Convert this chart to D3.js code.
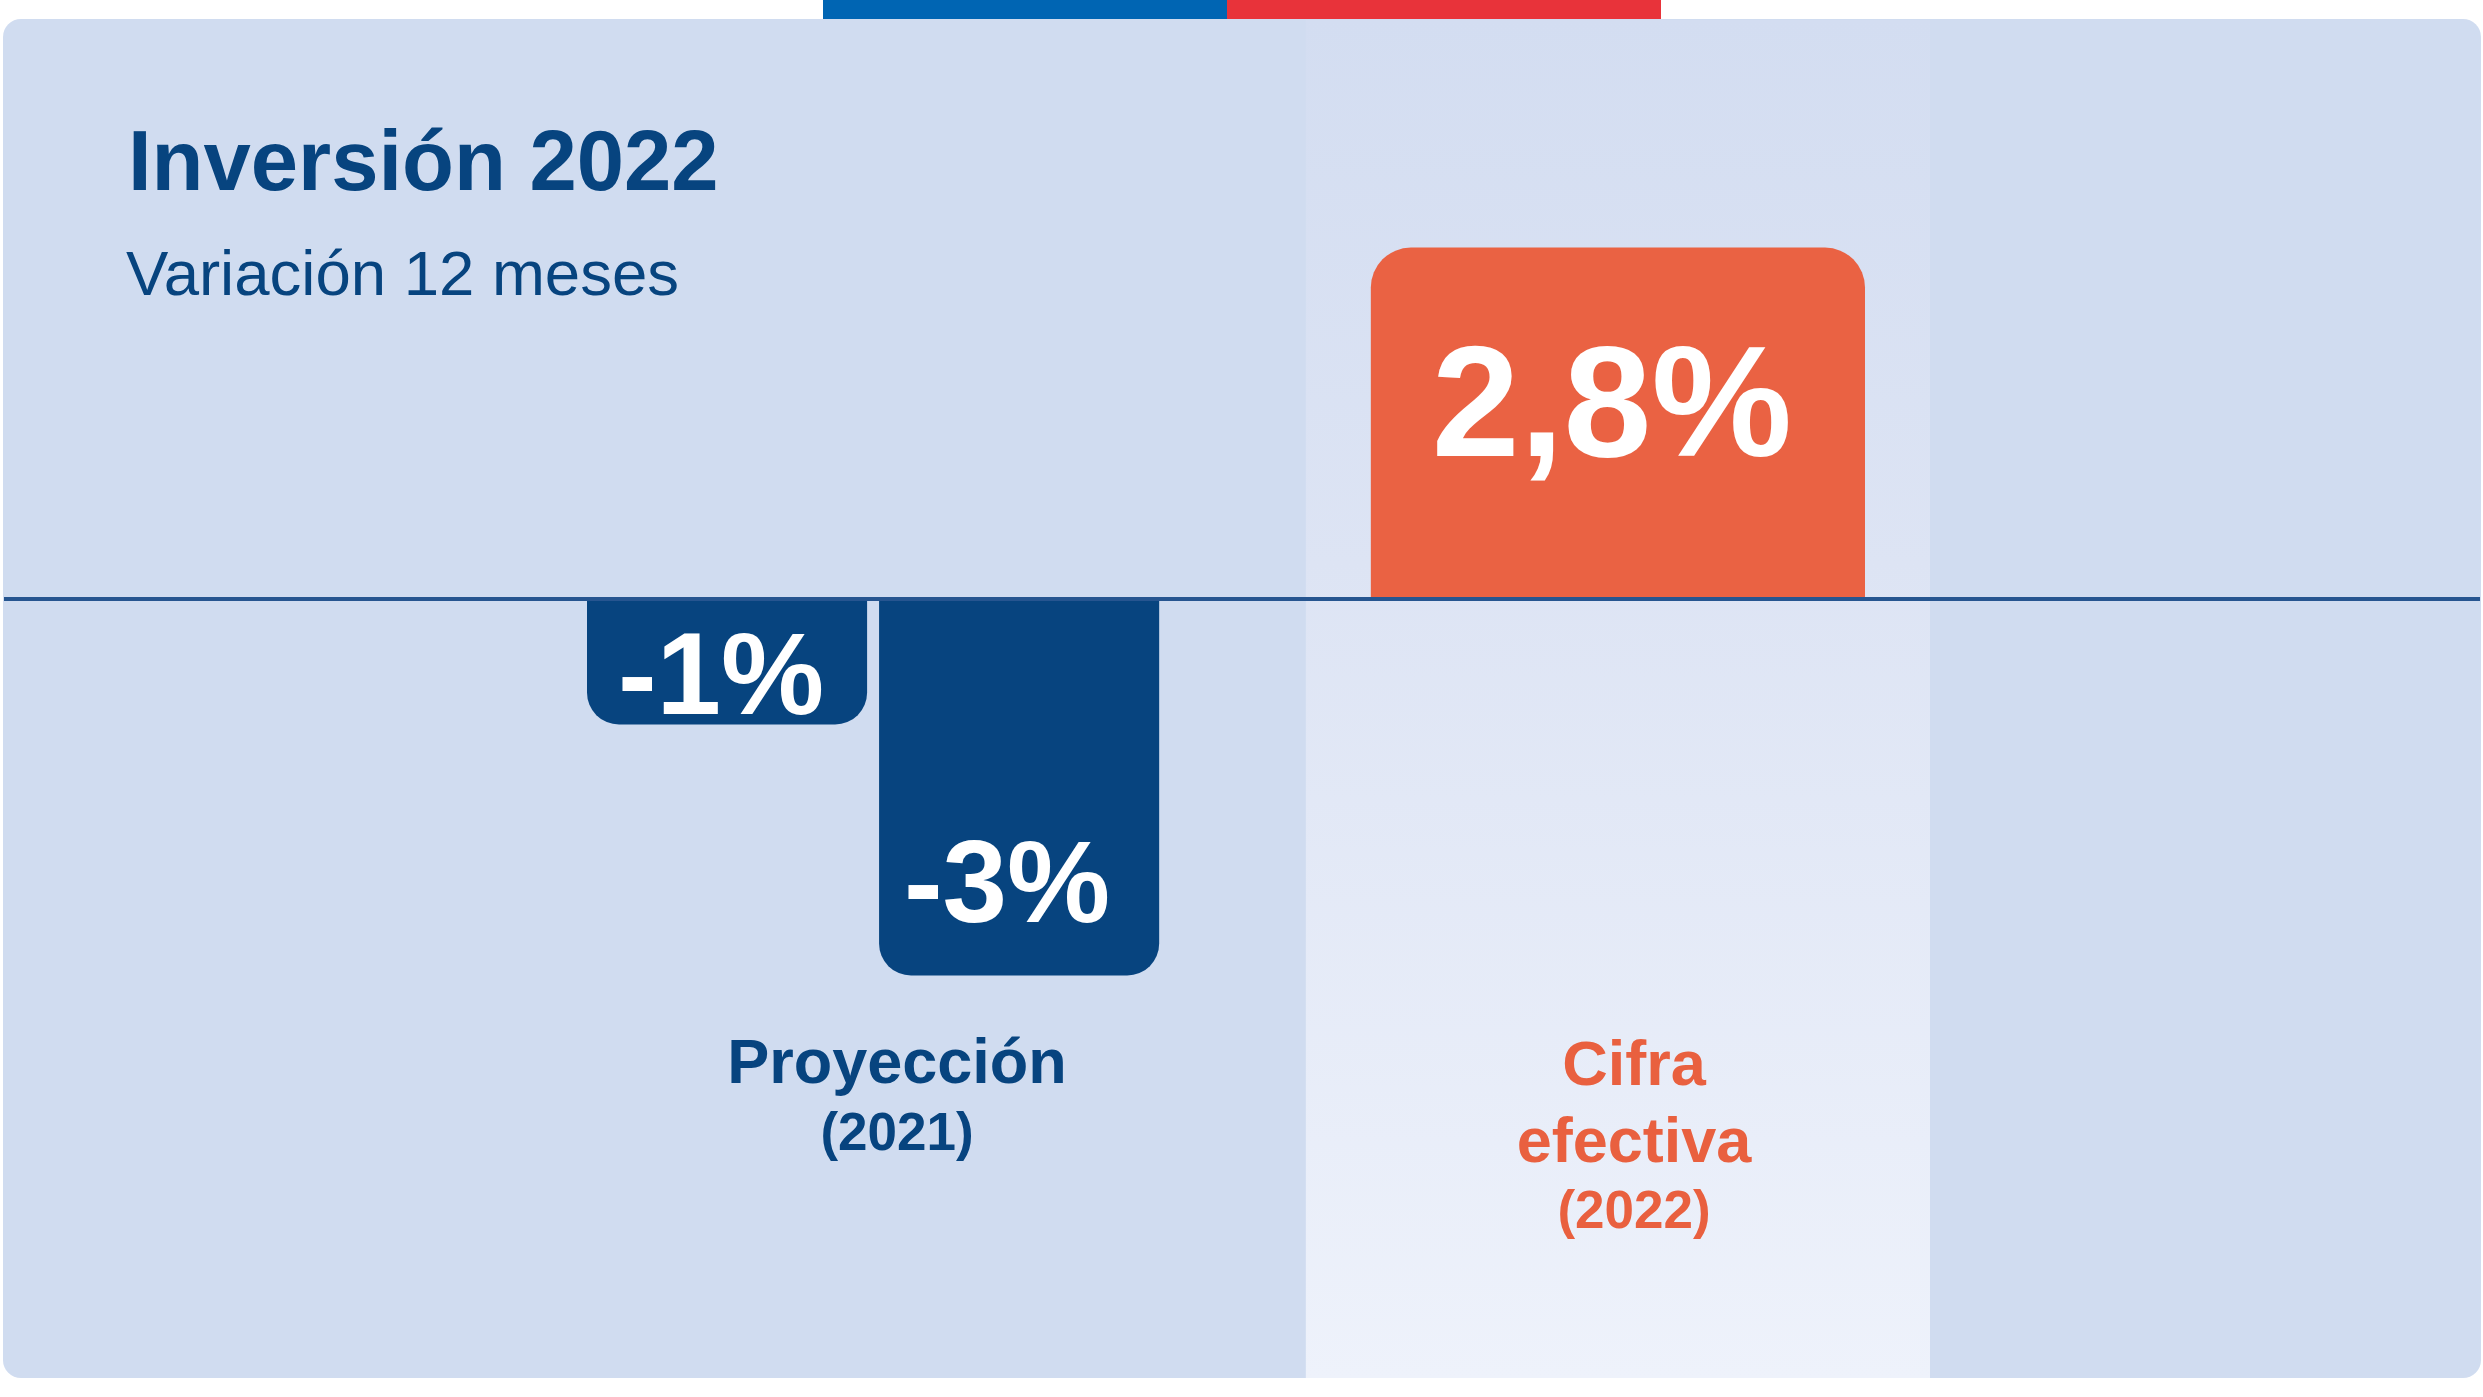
<!DOCTYPE html>
<html>
<head>
<meta charset="utf-8">
<script src="https://cdn.jsdelivr.net/npm/d3@7"></script>
<style>
  body { margin: 0; background: #ffffff; }
  svg { display: block; }
</style>
</head>
<body>
<svg id="chart_svg" width="2483" height="1397"></svg>
<script>
// data
var groups = ["Proyección", "Cifra efectiva"];
var groupLines = [["Proyección", "(2021)"], ["Cifra", "efectiva", "(2022)"]];
var proyeccionValues = [-1, -3];
var efectivaValues = [2.8];

var title = "Inversión 2022";
var subtitle = "Variación 12 meses";

document.addEventListener('DOMContentLoaded', function () {
  drawChart();
});

function fmt(v) {
  return String(v).replace(".", ",") + "%";
}

function barPath(x, w, y0, y1, r) {
  // y0 = zero side (square corners), y1 = value side (rounded corners)
  var dir = y1 > y0 ? 1 : -1;
  var sweep = dir > 0 ? 0 : 1;
  return "M" + x + "," + y0 +
    "L" + x + "," + (y1 - dir * r) +
    "A" + r + "," + r + " 0 0 " + sweep + " " + (x + r) + "," + y1 +
    "L" + (x + w - r) + "," + y1 +
    "A" + r + "," + r + " 0 0 " + sweep + " " + (x + w) + "," + (y1 - dir * r) +
    "L" + (x + w) + "," + y0 + "Z";
}

function drawChart() {
  var W = 2483, H = 1397;
  var svg = d3.select('#chart_svg');
  var navy = "#07447f", orange = "#ea6243";

  var defs = svg.append("defs");
  var grad = defs.append("linearGradient").attr("id", "band_grad")
    .attr("x1", 0).attr("y1", 0).attr("x2", 0).attr("y2", 1);
  grad.append("stop").attr("offset", "0%").attr("stop-color", "#d3ddf1");
  grad.append("stop").attr("offset", "40%").attr("stop-color", "#dde4f4");
  grad.append("stop").attr("offset", "100%").attr("stop-color", "#eef2fb");

  // flag strip on top
  svg.append("rect").attr("x", 823).attr("y", 0).attr("width", 404).attr("height", 20).attr("fill", "#0065b3");
  svg.append("rect").attr("x", 1227).attr("y", 0).attr("width", 434).attr("height", 20).attr("fill", "#e8333a");

  // panel
  svg.append("rect")
    .attr("x", 3).attr("y", 19).attr("width", W - 5).attr("height", 1359)
    .attr("rx", 18).attr("fill", "#d0dcf0");

  // scales
  var x = d3.scaleBand().domain(groups).range([561, 1930]).paddingInner(0.162).paddingOuter(0);
  var y = d3.scaleLinear().domain([-3, 3]).range([975.5, 222.5]);

  var xProy = d3.scaleBand().domain(d3.range(proyeccionValues.length))
    .range([x(groups[0]) + 26, x(groups[0]) + x.bandwidth() - 26]).paddingInner(0.041);

  // highlighted column behind "Cifra efectiva"
  svg.append("rect")
    .attr("x", x(groups[1])).attr("y", 20)
    .attr("width", x.bandwidth()).attr("height", 1358)
    .attr("fill", "url(#band_grad)");

  var bars = proyeccionValues.map(function (v, i) {
    return { value: v, x: xProy(i), w: xProy.bandwidth(), color: navy, r: 32 };
  }).concat(efectivaValues.map(function (v) {
    return { value: v, x: x(groups[1]) + 65, w: x.bandwidth() - 130, color: orange, r: 40 };
  }));

  // bars
  svg.selectAll(".bar")
    .data(bars)
    .enter()
    .append("path")
    .attr("class", "bar")
    .attr("d", function (d) { return barPath(d.x, d.w, y(0), y(d.value), d.r); })
    .attr("fill", function (d) { return d.color; });

  // zero line
  svg.append("line")
    .attr("x1", 4).attr("x2", W - 3)
    .attr("y1", y(0)).attr("y2", y(0))
    .attr("stroke", "#265590").attr("stroke-width", 4);

  // value labels
  var labelDy = [-11, -54, 208];
  var labelDx = [-6, -12, -6];
  var labelSize = [116, 116, 158];
  svg.selectAll(".val")
    .data(bars)
    .enter()
    .append("text")
    .attr("class", "val")
    .attr("x", function (d, i) { return d.x + d.w / 2 + labelDx[i]; })
    .attr("y", function (d, i) { return y(d.value) + labelDy[i]; })
    .attr("text-anchor", "middle")
    .attr("font-family", "'Liberation Sans', Arial, sans-serif")
    .attr("font-weight", "bold")
    .attr("font-size", function (d, i) { return labelSize[i]; })
    .attr("fill", "#ffffff")
    .text(function (d) { return fmt(d.value); });

  // category labels
  var catX = [897, 1634];
  var catColor = [navy, "#e9603f"];
  var lineY = [[1083, 1150], [1085, 1162, 1228]];
  groupLines.forEach(function (lines, gi) {
    var t = svg.append("text")
      .attr("text-anchor", "middle")
      .attr("font-family", "'Liberation Sans', Arial, sans-serif")
      .attr("font-weight", "bold")
      .attr("fill", catColor[gi]);
    lines.forEach(function (line, li) {
      var isYear = li === lines.length - 1;
      t.append("tspan")
        .attr("x", catX[gi])
        .attr("y", lineY[gi][li])
        .attr("font-size", isYear ? 53 : 63)
        .text(line);
    });
  });

  // title
  svg.append("text")
    .attr("x", 128).attr("y", 190)
    .attr("font-family", "'Liberation Sans', Arial, sans-serif")
    .attr("font-weight", "bold")
    .attr("font-size", 85)
    .attr("fill", navy)
    .text(title);

  svg.append("text")
    .attr("x", 126).attr("y", 295)
    .attr("font-family", "'Liberation Sans', Arial, sans-serif")
    .attr("font-size", 63.5)
    .attr("fill", navy)
    .text(subtitle);
}
</script>
</body>
</html>
